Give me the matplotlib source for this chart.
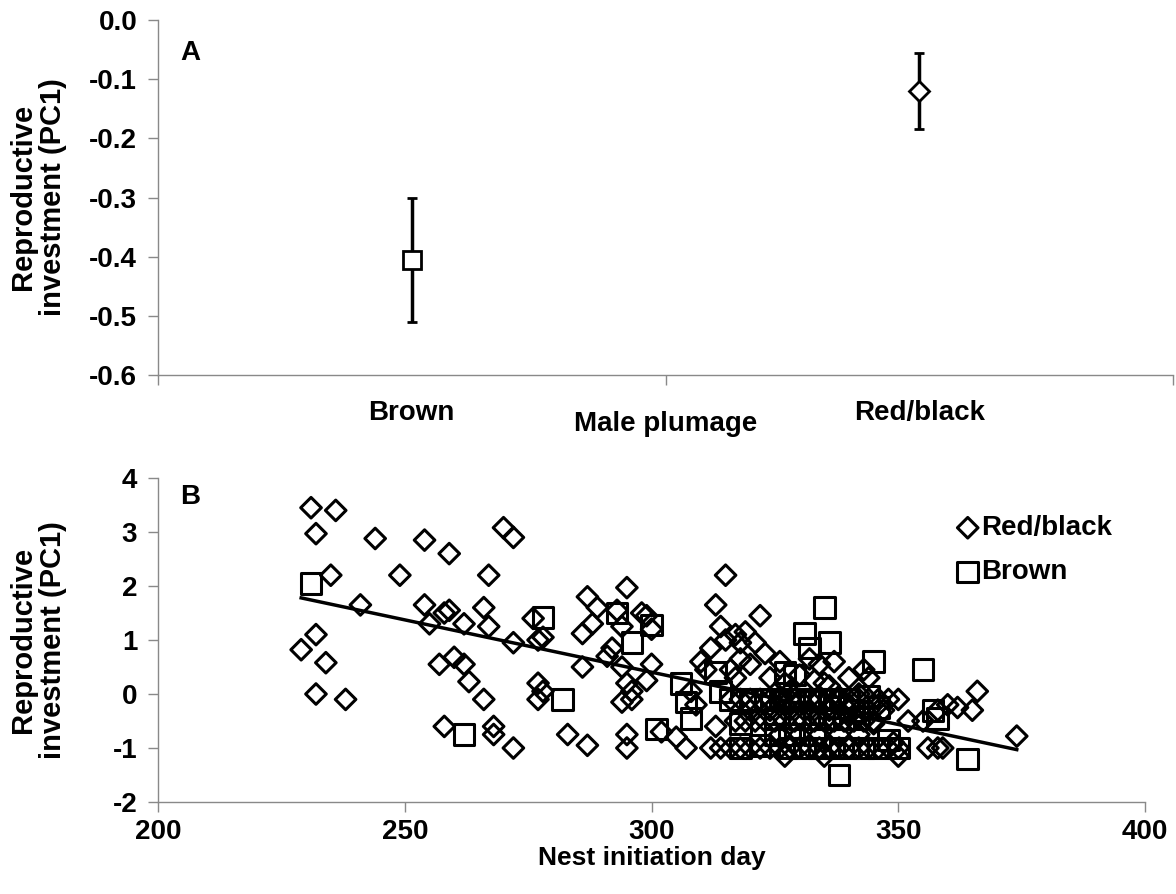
import matplotlib
matplotlib.use("Agg")
import matplotlib.pyplot as plt

plt.rcParams['font.family'] = ['Liberation Sans', 'DejaVu Sans']
plt.rcParams['font.weight'] = 'bold'

# Panel A data
plumage = ["Brown", "Red/black"]
pc1_mean = [-0.405, -0.12]
pc1_se = [0.105, 0.065]
a_ticks = [-0.6, -0.5, -0.4, -0.3, -0.2, -0.1, 0.0]
a_tick_labels = ["-0.6", "-0.5", "-0.4", "-0.3", "-0.2", "-0.1", "0.0"]

# Panel B data: Red/black males (diamonds)
red_x = [231, 236, 232, 235, 244, 254, 259, 270, 272, 249, 267, 241, 254, 255, 258, 259, 262, 266, 267, 272,
         276, 277, 278, 229, 232, 234, 232, 238, 257, 260, 262, 263, 266, 258, 268, 268, 272, 277, 277, 278,
         283, 287, 286, 286, 287, 289, 288, 291, 292, 293, 295, 294, 294, 295, 296, 294, 296, 295, 295, 298,
         299, 300, 300, 299, 302, 305, 307, 308, 310, 309, 311, 312, 313, 314, 315, 315, 316, 317, 313, 314,
         312, 317, 318, 318, 319, 320, 321, 322, 323, 324, 326, 327, 326, 328, 330, 332, 333, 334, 335, 336,
         337, 338, 340, 342, 343, 344, 346, 345, 347, 350, 350, 349, 352, 355, 356, 358, 360, 362, 365, 366,
         358, 359, 374,
         316, 318, 320, 322, 324, 326, 328, 330, 332, 334, 336, 338, 340, 342, 344, 346, 348,
         317, 319, 321, 323, 325, 327, 329, 331, 333, 335, 337, 339, 341, 343, 345,
         316, 318, 320, 322, 324, 326, 328, 330, 332, 334, 336, 338, 340, 342, 344, 346, 348, 350,
         320, 324, 328, 332, 336, 340, 344, 326, 330, 334, 338, 342, 327, 335]
red_y = [3.45, 3.4, 2.97, 2.2, 2.88, 2.85, 2.6, 3.08, 2.9, 2.2, 2.2, 1.65, 1.65, 1.3, 1.5, 1.55, 1.3, 1.6, 1.25, 0.95,
         1.4, 1.0, 1.05, 0.82, 1.1, 0.58, 0.0, -0.1, 0.55, 0.68, 0.55, 0.23, -0.1, -0.6, -0.6, -0.75, -1.0, 0.2, -0.1, 0.05,
         -0.75, -0.95, 0.5, 1.12, 1.8, 1.6, 1.3, 0.7, 0.85, 1.55, 1.97, 1.25, 0.5, 0.2, 0.05, -0.15, -0.1, -0.75, -1.0, 1.5,
         1.45, 1.2, 0.55, 0.25, -0.7, -0.8, -1.0, 0.05, 0.6, -0.2, 0.45, 0.85, 1.65, 1.25, 2.2, 1.0, 0.45, 0.3, -0.6, -1.0,
         -1.0, 1.1, 0.95, 0.65, 1.15, 0.55, 0.95, 1.45, 0.75, 0.3, 0.6, 0.2, -0.05, 0.05, 0.35, 0.65, 0.25, 0.55, 0.2, 0.15,
         0.6, -0.05, 0.3, 0.0, 0.45, 0.3, -0.2, -0.55, -0.3, -0.1, -1.15, -0.9, -0.5, -0.5, -1.0, -0.3, -0.2, -0.25, -0.3, 0.05,
         -1.0, -1.0, -0.78,
         -0.1, -0.1, -0.1, -0.1, -0.1, -0.1, -0.1, -0.1, -0.1, -0.1, -0.1, -0.1, -0.1, -0.1, -0.1, -0.1, -0.1,
         -0.5, -0.5, -0.5, -0.5, -0.5, -0.5, -0.5, -0.5, -0.5, -0.5, -0.5, -0.5, -0.5, -0.5, -0.5,
         -1.0, -1.0, -1.0, -1.0, -1.0, -1.0, -1.0, -1.0, -1.0, -1.0, -1.0, -1.0, -1.0, -1.0, -1.0, -1.0, -1.0, -1.0,
         -0.3, -0.3, -0.3, -0.3, -0.3, -0.3, -0.3, -0.75, -0.75, -0.75, -0.75, -0.75, -1.15, -1.15]

# Panel B data: Brown males (squares)
brown_x = [231, 262, 278, 282, 293, 296, 300, 301, 306, 307, 308, 313, 314, 316, 318, 318, 322, 325, 327, 329,
           331, 332, 333, 335, 336, 337, 338, 341, 345, 346, 348, 350, 355, 357, 358, 364, 344,
           320, 323, 326, 328, 330, 332, 334, 336, 340, 325, 330, 333, 336, 339, 342,
           328, 331, 334, 337, 340, 343, 346, 328, 333]
brown_y = [2.05, -0.75, 1.42, -0.1, 1.5, 0.95, 1.28, -0.65, 0.2, -0.15, -0.45, 0.4, 0.05, -0.1, -1.0, -0.55, -0.95, -0.75, 0.4, 0.35,
           1.12, 0.85, -0.1, 1.6, 0.95, -0.25, -1.5, -0.3, 0.6, -0.25, -0.85, -1.0, 0.45, -0.3, -0.45, -1.2, -0.05,
           -0.1, -0.1, -0.1, -0.1, -0.1, -0.1, -0.1, -0.1, -0.1, -0.45, -0.45, -0.45, -0.45, -0.45, -0.45,
           -1.0, -1.0, -1.0, -1.0, -1.0, -1.0, -1.0, -0.75, -0.75]

trend_x = [229, 374]
trend_y = [1.78, -1.03]

b_xticks = [200, 250, 300, 350, 400]
b_yticks = [-2, -1, 0, 1, 2, 3, 4]

fig = plt.figure(figsize=(11.76, 8.94), dpi=100)
grey = '#898989'
tick_fs = 20
lab_fs = 21

# ---------- Panel A ----------
axA = fig.add_axes([0.1344, 0.5805, 0.8631, 0.3971])
cat_pos = [0.5, 1.5]
axA.errorbar(cat_pos[0], pc1_mean[0], yerr=pc1_se[0], fmt='s', ms=13, mfc='white', mec='black',
             mew=2.0, ecolor='black', elinewidth=2.5, capsize=3.5, capthick=2.5, zorder=3)
axA.errorbar(cat_pos[1], pc1_mean[1], yerr=pc1_se[1], fmt='D', ms=10, mfc='white', mec='black',
             mew=2.0, ecolor='black', elinewidth=2.5, capsize=3.5, capthick=2.5, zorder=3)
axA.set_xlim(0, 2)
axA.set_ylim(-0.6, 0.0)
axA.set_yticks(a_ticks)
axA.set_yticklabels(a_tick_labels, fontsize=tick_fs, fontweight='bold')
axA.set_xticks([0, 1, 2])
axA.set_xticklabels([])
for x, lab in zip(cat_pos, plumage):
    axA.text(x, -0.6645, lab, ha='center', va='center', fontsize=tick_fs, fontweight='bold')
axA.text(1.0, -0.682, "Male plumage", ha='center', va='center', fontsize=tick_fs, fontweight='bold')
axA.text(0.043, -0.0558, "A", ha='left', va='center', fontsize=tick_fs, fontweight='bold')
for s in ['top', 'right']:
    axA.spines[s].set_visible(False)
for s in ['left', 'bottom']:
    axA.spines[s].set_color(grey)
    axA.spines[s].set_linewidth(1.0)
axA.tick_params(axis='both', direction='out', length=7, width=1.0, color=grey, pad=8)
fig.text(38 / 1176, 1 - 197 / 894, "Reproductive\ninvestment (PC1)", rotation=90, ha='center', va='center',
         multialignment='center', fontsize=lab_fs, fontweight='bold', linespacing=1.05)

# ---------- Panel B ----------
axB = fig.add_axes([0.1344, 0.1029, 0.8393, 0.3624])
axB.scatter(red_x, red_y, marker='D', s=110, facecolors='none', edgecolors='black', linewidths=2.2,
            label='Red/black', zorder=3)
axB.scatter(brown_x, brown_y, marker='s', s=220, facecolors='none', edgecolors='black', linewidths=2.2,
            label='Brown', zorder=3)
axB.plot(trend_x, trend_y, color='black', lw=2.5, zorder=4)
axB.set_xlim(200, 400)
axB.set_ylim(-2, 4)
axB.set_xticks(b_xticks)
axB.set_xticklabels([str(v) for v in b_xticks], fontsize=tick_fs, fontweight='bold')
axB.set_yticks(b_yticks)
axB.set_yticklabels([str(v) for v in b_yticks], fontsize=tick_fs, fontweight='bold')
for s in ['top', 'right']:
    axB.spines[s].set_visible(False)
for s in ['left', 'bottom']:
    axB.spines[s].set_color(grey)
    axB.spines[s].set_linewidth(1.0)
axB.tick_params(axis='x', direction='out', length=7, width=1.0, color=grey, pad=5)
axB.tick_params(axis='y', direction='out', length=7, width=1.0, color=grey, pad=8)
axB.set_xlabel("Nest initiation day", fontsize=19, fontweight='bold', labelpad=1)
fig.text(38 / 1176, 1 - 640 / 894, "Reproductive\ninvestment (PC1)", rotation=90, ha='center', va='center',
         multialignment='center', fontsize=lab_fs, fontweight='bold', linespacing=1.05)
axB.text(204.5, 3.65, "B", ha='left', va='center', fontsize=tick_fs, fontweight='bold')
leg = axB.legend(loc='upper left', bbox_to_anchor=(0.795, 0.92), frameon=False, fontsize=tick_fs,
                 handletextpad=0.0, labelspacing=0.65, markerscale=1.0, handlelength=1.0, borderaxespad=0)
for t in leg.get_texts():
    t.set_fontweight('bold')

fig.savefig("out.png", dpi=100, facecolor='white')
